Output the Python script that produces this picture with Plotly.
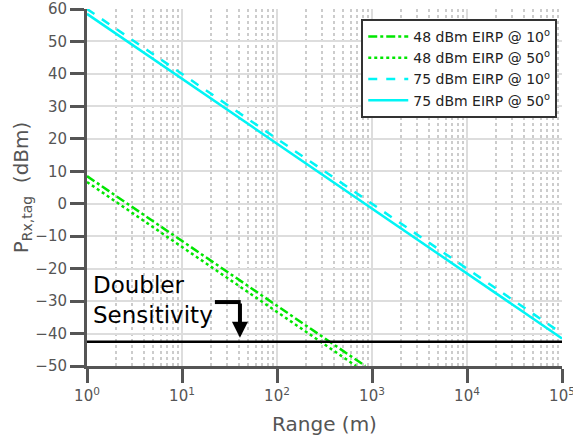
import plotly.graph_objects as go

# Data (endpoints of straight lines in log-range space)
range_75 = [1, 1e5]
p_75_10 = [60, -40]
p_75_50 = [58.5, -41.5]
range_48_10 = [1, 850]
p_48_10 = [8.5, -50]
range_48_50 = [1, 680]
p_48_50 = [6.7, -50]
sens_range = [1, 1e5]
sens_level = [-42.5, -42.5]

x_tickvals = [1, 10, 100, 1000, 10000, 100000]
x_ticktext = ["10<sup>0</sup>", "10<sup>1</sup>", "10<sup>2</sup>", "10<sup>3</sup>", "10<sup>4</sup>", "10<sup>5</sup>"]
y_tickvals = [-50, -40, -30, -20, -10, 0, 10, 20, 30, 40, 50, 60]

green = "#00e600"
cyan = "#00f5f5"
axc = "#555555"

fig = go.Figure()
fig.add_trace(go.Scatter(x=range_48_10, y=p_48_10, mode="lines", name="48 dBm EIRP @ 10<sup>o</sup>",
                         line=dict(color=green, width=2.5, dash="dashdot")))
fig.add_trace(go.Scatter(x=range_48_50, y=p_48_50, mode="lines", name="48 dBm EIRP @ 50<sup>o</sup>",
                         line=dict(color=green, width=2.5, dash="dot")))
fig.add_trace(go.Scatter(x=range_75, y=p_75_10, mode="lines", name="75 dBm EIRP @ 10<sup>o</sup>",
                         line=dict(color=cyan, width=2.5, dash="dash")))
fig.add_trace(go.Scatter(x=range_75, y=p_75_50, mode="lines", name="75 dBm EIRP @ 50<sup>o</sup>",
                         line=dict(color=cyan, width=2.5)))
fig.add_trace(go.Scatter(x=sens_range, y=sens_level, mode="lines", showlegend=False,
                         line=dict(color="black", width=2.5)))

# arrow: horizontal segment + downward arrow
fig.add_trace(go.Scatter(x=[22.2, 41.5], y=[-30.3, -30.3], mode="lines", showlegend=False,
                         line=dict(color="black", width=4)))
fig.add_annotation(x=1.61, y=-41.3, ax=1.61, ay=-30.3, xref="x", yref="y", axref="x", ayref="y",
                   showarrow=True, arrowhead=2, arrowsize=0.8, arrowwidth=4, arrowcolor="black", text="")

fig.add_annotation(x=0.04, y=-20.5, xref="x", yref="y", text="Doubler<br>Sensitivity", showarrow=False,
                   xanchor="left", yanchor="top", align="left",
                   font=dict(family="DejaVu Sans", size=23, color="black"))

fig.update_layout(
    width=573, height=439,
    margin=dict(l=87, r=11, t=9, b=73),
    plot_bgcolor="white", paper_bgcolor="white",
    font=dict(family="DejaVu Sans", color=axc),
    legend=dict(x=0.99, y=0.972, xanchor="right", yanchor="top",
                bgcolor="white", bordercolor="#333333", borderwidth=2,
                font=dict(size=14, color="#222222"), tracegroupgap=0,
                itemwidth=40),
)
fig.update_xaxes(type="log", range=[0, 5], tickvals=x_tickvals, ticktext=x_ticktext,
                 showline=True, linecolor=axc, linewidth=3, automargin=False,
                 ticks="outside", ticklen=14, tickwidth=3, tickcolor=axc,
                 tickfont=dict(size=15, color=axc), ticklabeloverflow="allow",
                 showgrid=True, gridcolor="#dddddd", gridwidth=2,
                 minor=dict(dtick="D1", showgrid=True, griddash="dot", gridcolor="#cccccc", gridwidth=1.5, ticks=""),
                 title=dict(text="Range (m)", font=dict(size=20, color=axc), standoff=13),
                 zeroline=False)
fig.update_yaxes(range=[-50, 60], tickvals=y_tickvals,
                 showline=True, linecolor=axc, linewidth=3, automargin=False,
                 ticks="outside", ticklen=14, tickwidth=3, tickcolor=axc,
                 tickfont=dict(size=15, color=axc), ticklabeloverflow="allow",
                 showgrid=True, gridcolor="#dddddd", gridwidth=2,
                 title=dict(text="P<sub>Rx,tag</sub>  (dBm)", font=dict(size=20, color=axc), standoff=2),
                 zeroline=False)

fig.write_html("out.html", config={"displayModeBar": False},
               post_script="document.body.style.margin='0';")
